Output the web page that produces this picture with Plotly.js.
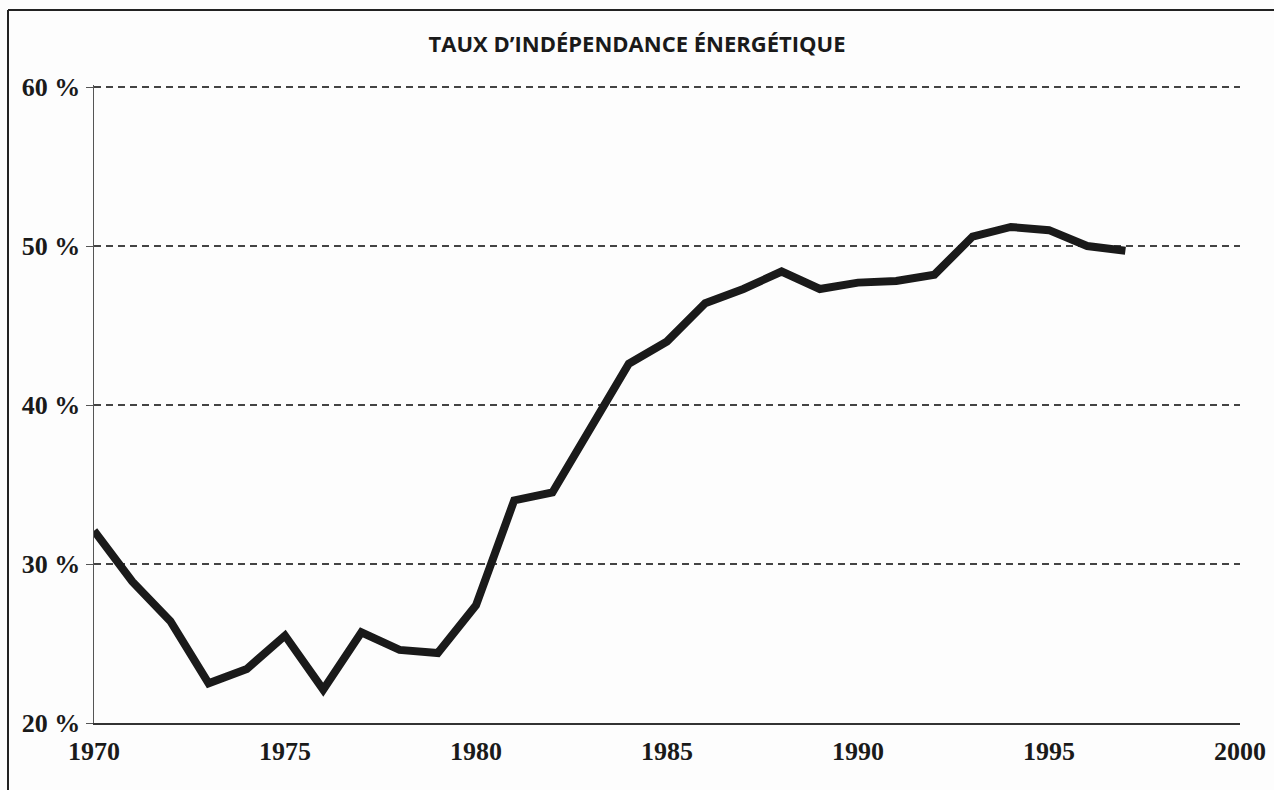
<!DOCTYPE html>
<html>
<head>
<meta charset="utf-8">
<script src="https://cdn.plot.ly/plotly-3.0.1.min.js"></script>
<style>
  html, body { margin: 0; padding: 0; background: #fdfdfd; }
  #chart { width: 1274px; height: 790px; }
</style>
</head>
<body>
<div id="chart"></div>
<script>
// Taux d'indépendance énergétique, 1970-1997
const years = [1970, 1971, 1972, 1973, 1974, 1975, 1976, 1977, 1978, 1979,
               1980, 1981, 1982, 1983, 1984, 1985, 1986, 1987, 1988, 1989,
               1990, 1991, 1992, 1993, 1994, 1995, 1996, 1997];
const rate = [32.1, 28.9, 26.4, 22.5, 23.4, 25.5, 22.1, 25.7, 24.6, 24.4,
              27.4, 34.0, 34.5, 38.5, 42.6, 44.0, 46.4, 47.3, 48.4, 47.3,
              47.7, 47.8, 48.2, 50.6, 51.2, 51.0, 50.0, 49.7];
const yTicks = [20, 30, 40, 50, 60];
const yTickText = ['20 %', '30 %', '40 %', '50 %', '60 %'];
const xTicks = [1970, 1975, 1980, 1985, 1990, 1995, 2000];

const tickFont = { family: 'Liberation Serif, DejaVu Serif, serif', size: 26, color: '#1a1a1a', weight: 'bold' };

const data = [{
  x: years, y: rate, type: 'scatter', mode: 'lines',
  line: { color: '#1a1a1a', width: 8 },
  hoverinfo: 'skip'
}];

// plot area: 94..1240 px wide, 85..723 px tall
const plotW = 1146, plotH = 638;

const layout = {
  width: 1274, height: 790,
  margin: { l: 94, r: 34, t: 85, b: 67 },
  paper_bgcolor: '#fdfdfd', plot_bgcolor: '#fdfdfd',
  showlegend: false,
  title: {
    text: 'TAUX D’INDÉPENDANCE ÉNERGÉTIQUE',
    x: 0.5, xanchor: 'center', y: 0.944, yanchor: 'middle',
    font: { family: 'Open Sans, sans-serif', size: 22, color: '#1a1a1a', weight: 'bold' }
  },
  xaxis: {
    range: [1970, 2000], tickvals: xTicks, ticktext: xTicks.map(String),
    showgrid: false, zeroline: false,
    showline: true, linecolor: '#333', linewidth: 2,
    ticks: '', ticklabelstandoff: 4, tickfont: tickFont, fixedrange: true
  },
  yaxis: {
    range: [20, 60.13], tickvals: yTicks, ticktext: yTickText,
    showgrid: true, gridcolor: '#444', gridwidth: 1.2, griddash: '7px,5px',
    zeroline: false, showline: true, linecolor: '#555', linewidth: 1.5,
    ticks: 'outside', ticklen: 7, tickcolor: '#555',
    ticklabelstandoff: 0, tickfont: tickFont, fixedrange: true
  },
  shapes: [
    // scanned page frame: left and top edges
    { type: 'line', xref: 'paper', yref: 'paper',
      x0: -86 / plotW, x1: -86 / plotW, y0: 1 + 75 / plotH, y1: -67 / plotH,
      line: { color: '#222', width: 2 } },
    { type: 'line', xref: 'paper', yref: 'paper',
      x0: -86 / plotW, x1: 1 + 34 / plotW, y0: 1 + 75 / plotH, y1: 1 + 75 / plotH,
      line: { color: '#222', width: 2 } }
  ]
};

Plotly.newPlot('chart', data, layout, { staticPlot: true, displayModeBar: false });
</script>
</body>
</html>
